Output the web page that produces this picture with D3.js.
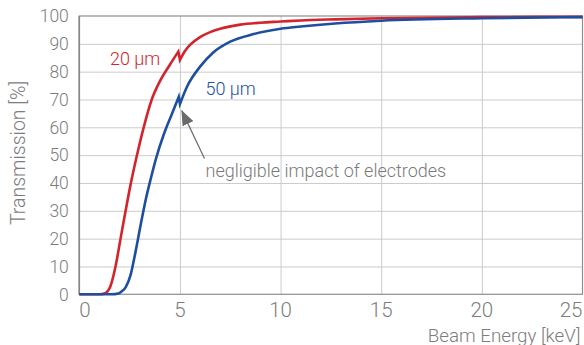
<!DOCTYPE html>
<html>
<head>
<meta charset="utf-8">
<script src="https://cdn.jsdelivr.net/npm/d3@7"></script>
<style>
  body { margin: 0; background: #fff; }
  svg { display: block; font-family: Roboto, "Liberation Sans", sans-serif; font-weight: 300; }
  .grid line { stroke: #cbcbcd; stroke-width: 1; }
  .grid .domain { display: none; }
  .tick-label { fill: #7d7d7d; }
</style>
</head>
<body>
<div id="chart"></div>
<script>
// Data (keV, transmission %), split at the 5 keV edge
const energy20Pre  = [0, 1.0, 1.28, 1.55, 1.8, 2.05, 2.3, 2.55, 2.85, 3.2, 3.6, 4.0, 4.5, 4.92];
const trans20Pre   = [0, 0, 0.4, 3, 10, 20, 30, 39.5, 49.5, 60, 70, 76.5, 82.5, 87.2];
const energy20Post = [5.0, 5.25, 5.5, 6.0, 6.5, 7.0, 8.0, 9.0, 10, 11, 12.7, 15, 20, 25];
const trans20Post  = [84.2, 87.4, 89.6, 92.4, 94.2, 95.4, 96.9, 97.6, 98.0, 98.4, 98.8, 99.2, 99.6, 99.7];

const energy50Pre  = [0, 1.6, 1.94, 2.1, 2.3, 2.55, 2.8, 3.05, 3.3, 3.55, 3.8, 4.2, 4.6, 4.94];
const trans50Pre   = [0, 0, 0.3, 1.0, 2.5, 7, 15.5, 25, 34, 41.5, 48.5, 57.5, 64.8, 71.0];
const energy50Post = [5.0, 5.35, 6.0, 6.67, 7.5, 8.66, 10, 11, 12.7, 15, 20, 25];
const trans50Post  = [68.4, 74.6, 81.8, 87, 90.8, 93.5, 95.4, 96.2, 97.3, 98.3, 99.2, 99.6];

const xTicks = [0, 5, 10, 15, 20, 25];
const yTicks = [0, 10, 20, 30, 40, 50, 60, 70, 80, 90, 100];

// Annotation anchors in data units
const labels = [
    { text: '20 µm', x: 1.52, y: 82.3, color: '#d3242d' },
    { text: '50 µm', x: 6.27, y: 71.6, color: '#1e4f9f' },
    { text: 'negligible impact of electrodes', x: 6.27, y: 42.1, color: '#7a7a7a' }
];
const arrowFrom = [6.22, 48.8];
const arrowTo = [5.09, 66];

const W = 584, H = 345;
const margin = { top: 16, right: 1.5, bottom: 50.7, left: 79.3 };
const width = W - margin.left - margin.right;
const height = H - margin.top - margin.bottom;

const svg = d3.select('#chart').append('svg')
    .attr('width', W)
    .attr('height', H);

const g = svg.append('g')
    .attr('transform', `translate(${margin.left},${margin.top})`);

const x = d3.scaleLinear().domain([0, 25]).range([0, width]);
const y = d3.scaleLinear().domain([0, 100]).range([height, 0]);

// Grid
g.append('g')
    .attr('class', 'grid')
    .call(d3.axisLeft(y).tickValues(yTicks.slice(1, -1)).tickSize(-width).tickFormat(''));
g.append('g')
    .attr('class', 'grid')
    .attr('transform', `translate(0,${height})`)
    .call(d3.axisBottom(x).tickValues(xTicks.slice(1, -1)).tickSize(-height).tickFormat(''));

// Frame
g.append('rect')
    .attr('x', 0).attr('y', 0)
    .attr('width', width).attr('height', height)
    .attr('fill', 'none')
    .attr('stroke', '#8e8e90')
    .attr('stroke-width', 1.2);
g.append('line')
    .attr('x1', 0).attr('x2', 0).attr('y1', 0).attr('y2', height)
    .attr('stroke', '#858587').attr('stroke-width', 1.6);

// Tick labels
g.selectAll('.ytl').data(yTicks).join('text')
    .attr('class', 'tick-label')
    .attr('x', -10.5)
    .attr('y', d => y(d))
    .attr('dy', '0.36em')
    .attr('text-anchor', 'end')
    .attr('font-size', 17.5)
    .text(d => d);

g.selectAll('.xtl').data(xTicks).join('text')
    .attr('class', 'tick-label')
    .attr('x', d => x(d))
    .attr('y', height + 22.5)
    .attr('text-anchor', (d, i) => i === 0 ? 'start' : (i === xTicks.length - 1 ? 'end' : 'middle'))
    .attr('font-size', 20.5)
    .text(d => d);

// Axis titles
svg.append('text')
    .attr('class', 'tick-label')
    .attr('transform', `translate(25,153) rotate(-90)`)
    .attr('text-anchor', 'middle')
    .attr('font-size', 19.5)
    .text('Transmission [%]');

svg.append('text')
    .attr('class', 'tick-label')
    .attr('x', W - 3.5)
    .attr('y', 341.5)
    .attr('text-anchor', 'end')
    .attr('font-size', 18.8)
    .text('Beam Energy [keV]');

// Curves: smooth before and after the edge, straight drop at the edge
const line = d3.line()
    .x(d => x(d[0]))
    .y(d => y(d[1]))
    .curve(d3.curveMonotoneX);

function edgePath(ePre, tPre, ePost, tPost) {
    const a = line(d3.zip(ePre, tPre));
    const b = line(d3.zip(ePost, tPost));
    return a + 'L' + b.slice(1);
}

g.append('path')
    .attr('fill', 'none')
    .attr('stroke', '#d3242d')
    .attr('stroke-width', 2.6)
    .attr('d', edgePath(energy20Pre, trans20Pre, energy20Post, trans20Post));

g.append('path')
    .attr('fill', 'none')
    .attr('stroke', '#1e4f9f')
    .attr('stroke-width', 2.6)
    .attr('d', edgePath(energy50Pre, trans50Pre, energy50Post, trans50Post));

// Arrow
svg.append('defs').append('marker')
    .attr('id', 'arrowHead')
    .attr('viewBox', '0 0 15 12')
    .attr('refX', 14.5).attr('refY', 6)
    .attr('markerWidth', 15).attr('markerHeight', 12)
    .attr('markerUnits', 'userSpaceOnUse')
    .attr('orient', 'auto')
    .append('path')
    .attr('d', 'M0,0 L15,6 L0,12 Z')
    .attr('fill', '#6a6a6a');

g.append('line')
    .attr('x1', x(arrowFrom[0])).attr('y1', y(arrowFrom[1]))
    .attr('x2', x(arrowTo[0])).attr('y2', y(arrowTo[1]))
    .attr('stroke', '#6a6a6a')
    .attr('stroke-width', 1.2)
    .attr('marker-end', 'url(#arrowHead)');

// Labels
g.selectAll('.lbl').data(labels).join('text')
    .attr('x', d => x(d.x))
    .attr('y', d => y(d.y))
    .attr('fill', d => d.color)
    .attr('font-size', 18)
    .text(d => d.text);
</script>
</body>
</html>
